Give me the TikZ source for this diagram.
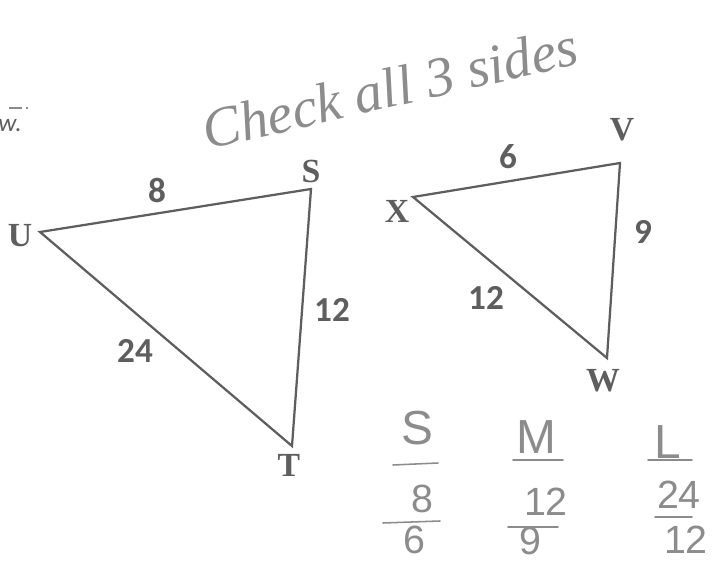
\documentclass[tikz,border=0pt]{standalone}
\usepackage{fontspec}
\setmainfont{Liberation Serif}
\setsansfont{Carlito}
\newfontfamily\handfont{Liberation Sans}
\usetikzlibrary{calc}
\definecolor{ink}{HTML}{5E5E5E}
\definecolor{pencil}{HTML}{8C8C8C}

\begin{document}
\begin{tikzpicture}[x=0.025cm,y=-0.025cm,
  every node/.style={text=ink,inner sep=1pt},
  side/.style={draw=ink,line width=1.6pt,line join=miter},
  vertex/.style={font=\fontsize{24}{26}\selectfont\bfseries},
  length/.style={font=\sffamily\fontsize{25}{28}\selectfont\bfseries},
  hand/.style={text=pencil,font=\handfont\fontsize{28}{30}\selectfont},
  hand letter/.style={hand,font=\handfont\fontsize{34}{38}\selectfont},
  bar/.style={draw=pencil,line width=1.1pt,line cap=round}]
\useasboundingbox (0,0) rectangle (719,564);

% fragments of the worksheet cut off at the left edge
\draw[draw=pencil,line width=.8pt] (9,108) -- (22,108) (26,108) -- (28,108);
\node[text=ink,font=\sffamily\itshape\fontsize{18}{20}\selectfont] (cut) at (10,126) {w.};

\node[text=pencil,rotate=13,font=\itshape\fontsize{40}{44}\selectfont] (note)
  at (390,88) {Check all  3 sides};

% triangle UST
\coordinate (u) at (40,232);
\coordinate (s) at (311,189);
\coordinate (t) at (292,446);
\draw[side] (u) -- (s) -- (t) -- cycle;
\node[vertex] (lu) at (20,236) {U};
\node[vertex] (ls) at (311,171) {S};
\node[vertex] (lt) at (289,465) {T};
\node[length] (us) at (157,190) {8};
\node[length] (st) at (332,310) {12};
\node[length] (ut) at (135,351) {24};

% triangle XVW
\coordinate (x) at (413,197);
\coordinate (v) at (620,163);
\coordinate (w) at (607,358);
\draw[side] (x) -- (v) -- (w) -- cycle;
\node[vertex] (lx) at (397,211) {X};
\node[vertex] (lv) at (622,130) {V};
\node[vertex] (lw) at (603,381) {W};
\node[length] (xv) at (508,157) {6};
\node[length] (vw) at (643,232) {9};
\node[length] (xw) at (486,298) {12};

% short, middle and long sides
\node[hand letter] (small) at (417,428) {S};
\node[hand letter] (mid) at (536,437) {M};
\node[hand letter] (large) at (668,442) {L};
\draw[bar] (393,465) -- (438,463);
\draw[bar] (513,460) -- (563,460);
\draw[bar] (648,460) -- (692,460);
\node[hand] (s1) at (422,499) {8};
\node[hand] (m1) at (546,502) {12};
\node[hand] (l1) at (679,495) {24};
\draw[bar] (383,523) -- (440,521);
\draw[bar] (508,527) -- (558,527);
\draw[bar] (655,517) -- (692,517);
\node[hand] (s2) at (414,540) {6};
\node[hand] (m2) at (530,541) {9};
\node[hand] (l2) at (686,540) {12};
\end{tikzpicture}
\end{document}
